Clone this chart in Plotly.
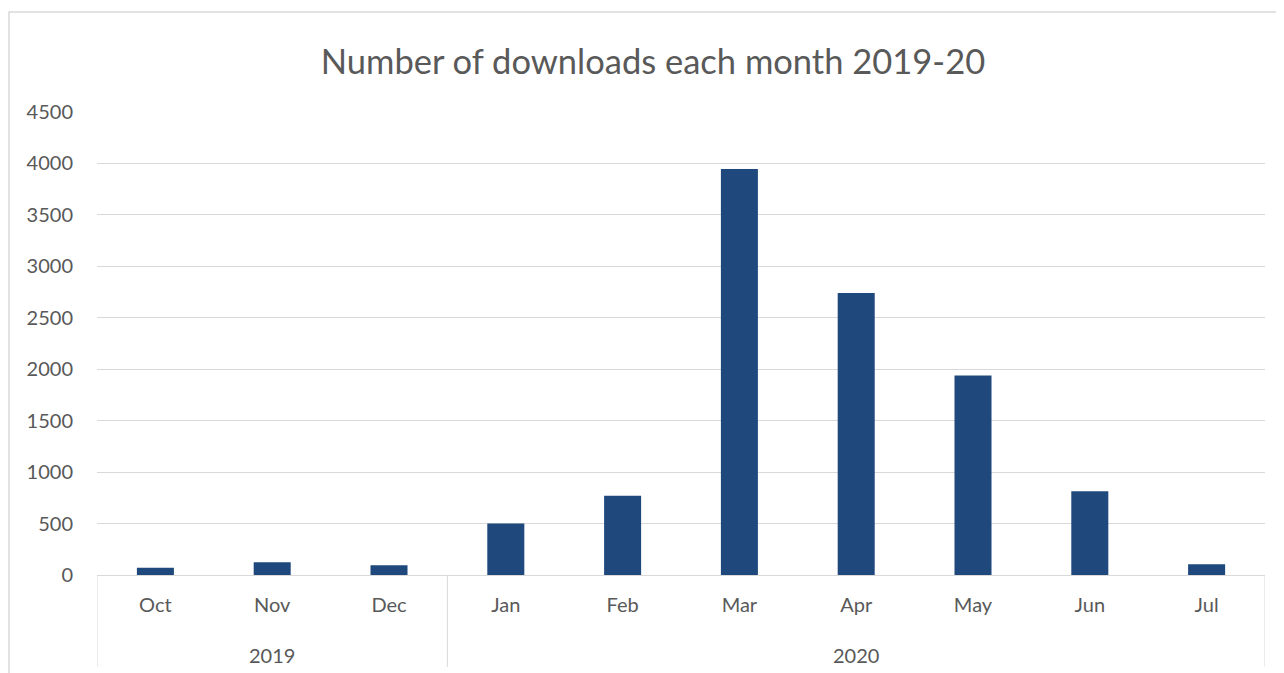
import plotly.graph_objects as go

years = ["2019", "2019", "2019", "2020", "2020", "2020", "2020", "2020", "2020", "2020"]
months = ["Oct", "Nov", "Dec", "Jan", "Feb", "Mar", "Apr", "May", "Jun", "Jul"]
downloads = [70, 125, 95, 500, 770, 3945, 2740, 1940, 815, 105]

# the page body adds an 8px offset; the layout compensates for it
OFF = 8
W, H = 1284, 673
L, R, T, B = 97 - OFF, 1284 - (1265 - OFF), 112 - OFF, 673 - (575 - OFF)
pw = W - L - R
ph = H - T - B

grey = "#595959"
line_grey = "#d9d9d9"
FONT = "Lato, Open Sans, sans-serif"

fig = go.Figure()
fig.add_trace(go.Bar(
    x=list(range(len(months))),
    y=downloads,
    marker=dict(color="#1F497D", line=dict(width=0)),
    hovertext=[f"{m} {y}" for m, y in zip(months, years)],
))

fig.update_layout(
    width=W, height=H,
    margin=dict(l=L, r=R, t=T, b=B),
    paper_bgcolor="white",
    plot_bgcolor="white",
    bargap=0.683,
    showlegend=False,
    font=dict(family=FONT, color=grey, size=20),
    title=dict(
        text="Number of downloads each month 2019-20",
        x=(653 - OFF) / W, xanchor="center", xref="container",
        y=1 - (62 - OFF) / H, yanchor="middle",
        font=dict(family=FONT, size=34.5, color=grey),
    ),
    xaxis=dict(
        range=[-0.5, len(months) - 0.5],
        tickmode="array",
        tickvals=list(range(len(months))),
        ticktext=months,
        showline=True, linecolor=line_grey, linewidth=1,
        showgrid=False, zeroline=False,
        tickfont=dict(size=20, color=grey),
        ticks="", ticklabelstandoff=12,
    ),
    yaxis=dict(
        range=[0, 4500], dtick=500, tick0=0,
        showgrid=True, gridcolor=line_grey, gridwidth=1,
        zeroline=False, showline=False,
        tickfont=dict(size=20, color=grey),
        ticks="", ticklabelstandoff=23,
    ),
)

# year group labels and dividers (Excel multi-level category axis)
div_bottom = -(667 - 575) / ph
groups = []
for i, y in enumerate(years):
    if not groups or groups[-1][0] != y:
        groups.append([y, i, i])
    else:
        groups[-1][2] = i

boundaries = [g[1] - 0.5 for g in groups] + [groups[-1][2] + 0.5]
for bx in boundaries:
    fig.add_shape(
        type="line", xref="x", yref="paper",
        x0=bx, x1=bx, y0=0, y1=div_bottom,
        line=dict(color=line_grey, width=1),
    )
for name, i0, i1 in groups:
    fig.add_annotation(
        x=(i0 + i1) / 2, xref="x",
        y=-(655 - 575) / ph, yref="paper", yanchor="middle",
        text=name, showarrow=False,
        font=dict(family=FONT, size=20, color=grey),
    )

# chart area border (outer Excel chart frame)
fig.add_shape(
    type="rect", xref="paper", yref="paper",
    x0=(9 - OFF - L) / pw, x1=(W + 20 - L) / pw,
    y0=-(B + 20) / ph, y1=(ph + T - (12 - OFF)) / ph,
    line=dict(color=line_grey, width=1.5), fillcolor="rgba(0,0,0,0)",
    layer="below",
)

fig.write_html("out.html")
